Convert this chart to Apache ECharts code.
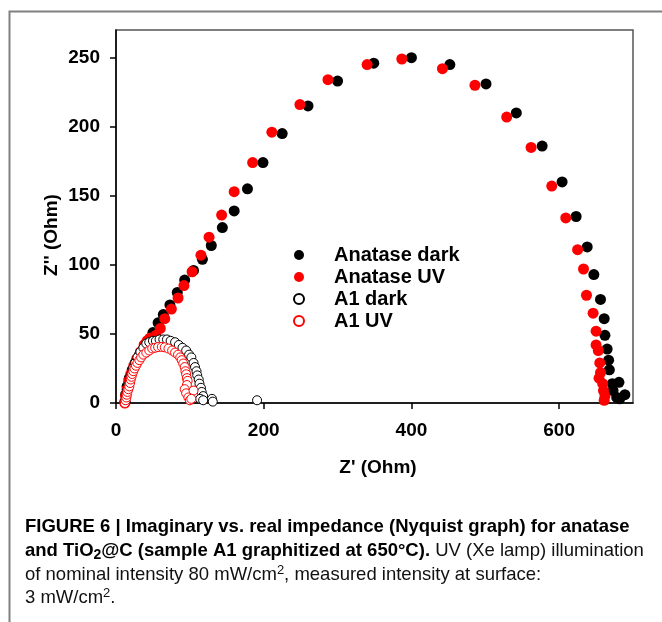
<!DOCTYPE html>
<html>
<head>
<meta charset="utf-8">
<script src="https://cdn.jsdelivr.net/npm/echarts@6/dist/echarts.min.js"></script>
<style>
  html, body { margin: 0; padding: 0; background: #fff; }
  #chart { width: 662px; height: 622px; }
</style>
</head>
<body>
<div id="chart"></div>
<script>
// series names (legend order)
const seriesNames = ["Anatase dark", "Anatase UV", "A1 dark", "A1 UV"];

// [Z', Z''] in Ohm
const anataseDark = [
  [12, 1], [13, 6], [15, 12], [18, 18], [22, 24], [26, 29], [31, 34], [36, 38], [41, 43], [45, 46],
  [50, 51], [57, 58], [64, 64], [73, 71], [83, 80], [93, 89], [105, 96], [117, 104], [129, 114],
  [144, 127], [160, 139], [178, 155], [199, 174], [225, 195], [260, 215], [300, 233], [349, 246],
  [400, 250], [452, 245], [501, 231], [542, 210], [577, 186], [604, 160], [623, 135], [638, 113],
  [647, 93], [656, 75], [661, 61], [662, 49], [665, 39], [667, 31], [668, 24], [672, 14], [681, 15],
  [673, 9], [678, 4], [689, 6], [682, 3]
];
const anataseUV = [
  [12, 0], [13, 5], [15, 10], [17, 16], [20, 21], [24, 27], [28, 32], [33, 37], [38, 42], [42, 45],
  [46, 47], [54, 49], [60, 54], [66, 61], [75, 68], [84, 76], [92, 85], [103, 95], [115, 107],
  [126, 120], [143, 136], [160, 153], [185, 174], [211, 196], [249, 216], [287, 234], [340, 245],
  [387, 249], [442, 242], [486, 230], [529, 207], [562, 185], [590, 157], [609, 134], [625, 111],
  [633, 97], [637, 78], [646, 65], [650, 52], [650, 42], [653, 38], [655, 29], [656, 22], [654, 18],
  [659, 14], [660, 9], [662, 5], [661, 2]
];
const a1Dark = [
  [13, 1], [14, 5], [15, 9], [17, 13], [19, 17], [21, 21], [23, 25], [26, 29], [29, 33], [33, 37],
  [37, 40], [41, 43], [45, 44], [50, 45], [54, 45], [59, 46], [64, 46], [69, 46], [74, 45], [80, 44],
  [85, 42], [90, 40], [95, 38], [99, 35], [102, 33], [105, 29], [107, 26], [109, 23], [110, 20],
  [112, 17], [113, 14], [115, 11], [116, 8], [118, 5], [114, 3], [118, 2], [130, 3], [131, 1], [191, 2]
];
const a1UV = [
  [12, 0], [13, 2], [14, 4], [14.5, 6], [15.5, 8], [16.7, 10], [18, 12], [19, 14.5], [20, 17], [21, 19],
  [22, 21], [23.4, 23], [25, 25], [27, 27], [29, 29], [31.6, 31], [34, 33], [37, 35], [41, 36.5],
  [45, 38], [49, 39.5], [53, 40], [57, 40.5], [62, 40.6], [66, 40.3], [71, 39.4], [76, 38], [80, 36.5],
  [84, 35], [87, 33], [89, 31], [91, 28.6], [93, 26], [94, 23], [95, 20.8], [96, 18], [97, 16],
  [96, 13], [93, 10], [95, 7], [105, 9], [98, 4], [100, 2], [102, 3]
];

const FONT = "'Liberation Sans', Arial, Helvetica, sans-serif";

var chartDom = document.getElementById("chart");
var myChart = echarts.init(chartDom);
var option;

const filled = (name, data, color) => ({
  name: name,
  type: "scatter",
  data: data,
  symbol: "circle",
  symbolSize: 11,
  itemStyle: { color: color, opacity: 1 },
  emphasis: { disabled: true },
});
const hollow = (name, data, color) => ({
  name: name,
  type: "scatter",
  data: data,
  symbol: "circle",
  symbolSize: 9,
  itemStyle: { color: "#fff", borderColor: color, borderWidth: 1, opacity: 1 },
  emphasis: { disabled: true },
});

option = {
  animation: false,
  backgroundColor: "#fff",
  grid: {
    left: 116, top: 30, right: 29, bottom: 219,
    show: true, borderColor: "#555", borderWidth: 1.5,
    outerBoundsMode: "none",
  },
  xAxis: {
    type: "value",
    min: 0, max: 700, interval: 200,
    axisLine: { show: true, lineStyle: { color: "#000", width: 1.5 } },
    axisTick: { show: true, inside: false, length: 6, lineStyle: { color: "#000", width: 1.5 } },
    axisLabel: {
      margin: 18, color: "#000", fontSize: 19, fontWeight: "bold", fontFamily: FONT,
      showMaxLabel: false,
    },
    splitLine: { show: false },
  },
  yAxis: {
    type: "value",
    min: 0, max: 270, interval: 50,
    axisLine: { show: true, lineStyle: { color: "#000", width: 1.5 } },
    axisTick: { show: true, inside: false, length: 6, lineStyle: { color: "#000", width: 1.5 } },
    axisLabel: {
      margin: 16, color: "#000", fontSize: 19, fontWeight: "bold", fontFamily: FONT,
      showMaxLabel: false,
    },
    splitLine: { show: false },
  },
  legend: {
    orient: "vertical",
    left: 288, top: 240,
    icon: "circle",
    itemWidth: 60, itemHeight: 10, itemGap: 2,
    data: seriesNames,
    textStyle: { color: "#000", fontSize: 20, fontWeight: "bold", fontFamily: FONT },
    selectedMode: false,
  },
  series: [
    filled(seriesNames[0], anataseDark, "#000"),
    filled(seriesNames[1], anataseUV, "#ff0000"),
    hollow(seriesNames[2], a1Dark, "#000"),
    hollow(seriesNames[3], a1UV, "#ff0000"),
  ],
  graphic: [
    // figure frame
    {
      type: "rect", left: 7, top: 9, silent: true,
      shape: { width: 720, height: 700 },
      style: { fill: "none", stroke: "#808080", lineWidth: 2 },
    },
    // axis titles
    {
      type: "text", x: 378, y: 468, silent: true,
      style: {
        text: "Z' (Ohm)", fill: "#000", font: "bold 19px " + FONT,
        textAlign: "center", textVerticalAlign: "middle",
      },
    },
    {
      type: "text", x: 52, y: 235, rotation: Math.PI / 2, silent: true,
      style: {
        text: "Z'' (Ohm)", fill: "#000", font: "bold 19px " + FONT,
        textAlign: "center", textVerticalAlign: "middle",
      },
    },
    // caption
    {
      type: "text", x: 25, y: 527, silent: true,
      style: {
        text: "{b|FIGURE 6 | Imaginary vs. real impedance (Nyquist graph) for anatase}",
        textVerticalAlign: "middle",
        rich: { b: { fill: "#000", font: "bold 18.5px " + FONT } },
      },
    },
    {
      type: "text", x: 25, y: 551, silent: true,
      style: {
        text: "{b|and TiO}{bs|2}{b|@C (sample A1 graphitized at 650°C).}{r| UV (Xe lamp) illumination}",
        textVerticalAlign: "middle",
        rich: {
          b: { fill: "#000", font: "bold 18.5px " + FONT, lineHeight: 22 },
          bs: { fill: "#000", font: "bold 14px " + FONT, lineHeight: 22, verticalAlign: "bottom" },
          r: { fill: "#111", font: "18.5px " + FONT, lineHeight: 22 },
        },
      },
    },
    {
      type: "text", x: 25, y: 575, silent: true,
      style: {
        text: "{r|of nominal intensity 80 mW/cm}{sp|2}{r|, measured intensity at surface:}",
        textVerticalAlign: "middle",
        rich: {
          r: { fill: "#111", font: "18.5px " + FONT, lineHeight: 22 },
          sp: { fill: "#111", font: "13px " + FONT, lineHeight: 22, verticalAlign: "top" },
        },
      },
    },
    {
      type: "text", x: 25, y: 598, silent: true,
      style: {
        text: "{r|3 mW/cm}{sp|2}{r|.}",
        textVerticalAlign: "middle",
        rich: {
          r: { fill: "#111", font: "18.5px " + FONT, lineHeight: 22 },
          sp: { fill: "#111", font: "13px " + FONT, lineHeight: 22, verticalAlign: "top" },
        },
      },
    },
  ],
};

option && myChart.setOption(option);
</script>
</body>
</html>
